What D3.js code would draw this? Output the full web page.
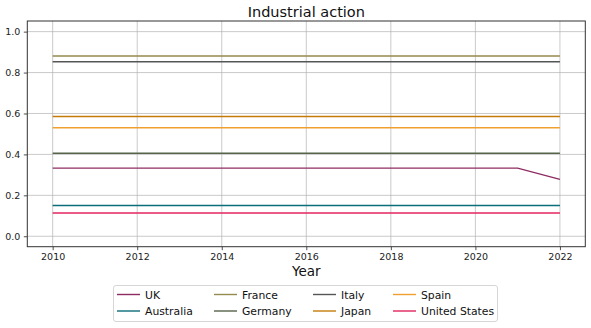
<!DOCTYPE html>
<html>
<head>
	<meta charset="utf-8">
	<title>Industrial action</title>
	<style>
		body { margin: 0; background: #fff; }
		svg { font-family: "DejaVu Sans", sans-serif; }
	</style>
</head>
<body>
	<svg width="591" height="328"></svg>
	<script src="https://cdn.jsdelivr.net/npm/d3@7"></script>
	<script>
		// data
		var years = [2010, 2011, 2012, 2013, 2014, 2015, 2016, 2017, 2018, 2019, 2020, 2021, 2022];
		var countries = ['UK', 'Australia', 'France', 'Germany', 'Italy', 'Japan', 'Spain', 'United States'];
		var colors = ['#8e2c62', '#0b6e7a', '#958a4d', '#56644a', '#555555', '#c57a0a', '#f0a030', '#e3245f'];
		var ukValues = [0.333, 0.333, 0.333, 0.333, 0.333, 0.333, 0.333, 0.333, 0.333, 0.333, 0.333, 0.333, 0.278];
		var australiaValues = [0.15, 0.15, 0.15, 0.15, 0.15, 0.15, 0.15, 0.15, 0.15, 0.15, 0.15, 0.15, 0.15];
		var franceValues = [0.881, 0.881, 0.881, 0.881, 0.881, 0.881, 0.881, 0.881, 0.881, 0.881, 0.881, 0.881, 0.881];
		var germanyValues = [0.406, 0.406, 0.406, 0.406, 0.406, 0.406, 0.406, 0.406, 0.406, 0.406, 0.406, 0.406, 0.406];
		var italyValues = [0.853, 0.853, 0.853, 0.853, 0.853, 0.853, 0.853, 0.853, 0.853, 0.853, 0.853, 0.853, 0.853];
		var japanValues = [0.585, 0.585, 0.585, 0.585, 0.585, 0.585, 0.585, 0.585, 0.585, 0.585, 0.585, 0.585, 0.585];
		var spainValues = [0.53, 0.53, 0.53, 0.53, 0.53, 0.53, 0.53, 0.53, 0.53, 0.53, 0.53, 0.53, 0.53];
		var usValues = [0.114, 0.114, 0.114, 0.114, 0.114, 0.114, 0.114, 0.114, 0.114, 0.114, 0.114, 0.114, 0.114];
		var xTicks = [2010, 2012, 2014, 2016, 2018, 2020, 2022];
		var yTicks = [0.0, 0.2, 0.4, 0.6, 0.8, 1.0];

		var series = [ukValues, australiaValues, franceValues, germanyValues, italyValues, japanValues, spainValues, usValues];

		var svg = d3.select('svg');
		var plotLeft = 27.3, plotRight = 585.3, plotTop = 21, plotBottom = 246.7;

		var x = d3.scaleLinear().domain([2009.4, 2022.6]).range([plotLeft, plotRight]);
		var y = d3.scaleLinear().domain([-0.051, 1.052]).range([plotBottom, plotTop]);

		// grid
		var grid = svg.append('g');
		grid.selectAll('.gx').data(xTicks).enter().append('line')
			.attr('x1', d => x(d)).attr('x2', d => x(d))
			.attr('y1', plotTop).attr('y2', plotBottom)
			.attr('stroke', '#b0b0b0').attr('stroke-opacity', 0.75).attr('stroke-width', 0.9);
		grid.selectAll('.gy').data(yTicks).enter().append('line')
			.attr('x1', plotLeft).attr('x2', plotRight)
			.attr('y1', d => y(d)).attr('y2', d => y(d))
			.attr('stroke', '#b0b0b0').attr('stroke-opacity', 0.75).attr('stroke-width', 0.9);

		// lines
		var line = d3.line().x((d, i) => x(years[i])).y(d => y(d));
		svg.append('g').selectAll('path').data(series).enter().append('path')
			.attr('d', d => line(d))
			.attr('fill', 'none')
			.attr('stroke', (d, i) => colors[i])
			.attr('stroke-width', 1.4);

		// axes
		var xAxis = d3.axisBottom(x).tickValues(xTicks).tickFormat(d3.format('d')).tickSize(3.5).tickPadding(3.5);
		var yAxis = d3.axisLeft(y).tickValues(yTicks).tickFormat(d3.format('.1f')).tickSize(3.5).tickPadding(3.5);
		var gx = svg.append('g').attr('transform', 'translate(0,' + plotBottom + ')').call(xAxis);
		var gy = svg.append('g').attr('transform', 'translate(' + plotLeft + ',0)').call(yAxis);
		[gx, gy].forEach(g => {
			g.select('.domain').remove();
			g.selectAll('text').attr('font-size', 9.5).attr('fill', '#222').attr('font-family', '"DejaVu Sans", sans-serif');
			g.selectAll('line').attr('stroke', '#222').attr('stroke-width', 0.8);
		});

		// frame
		svg.append('rect')
			.attr('x', plotLeft).attr('y', plotTop)
			.attr('width', plotRight - plotLeft).attr('height', plotBottom - plotTop)
			.attr('fill', 'none').attr('stroke', '#333').attr('stroke-width', 1);

		// title and axis label
		svg.append('text').attr('x', (plotLeft + plotRight) / 2).attr('y', 17)
			.attr('text-anchor', 'middle').attr('font-size', 14.5).attr('fill', '#111')
			.text('Industrial action');
		svg.append('text').attr('x', (plotLeft + plotRight) / 2).attr('y', 276)
			.attr('text-anchor', 'middle').attr('font-size', 13.5).attr('fill', '#111')
			.text('Year');

		// legend, two rows, filled column by column
		var legend = svg.append('g');
		legend.append('rect')
			.attr('x', 113.5).attr('y', 285.5).attr('width', 384).attr('height', 36)
			.attr('rx', 2.5).attr('fill', '#fff').attr('stroke', '#d6d6d6');
		var colX = [117, 214, 313, 393];
		var rowY = [294.5, 311];
		var items = legend.selectAll('g').data(countries).enter().append('g')
			.attr('transform', (d, i) => 'translate(' + colX[Math.floor(i / 2)] + ',' + rowY[i % 2] + ')');
		items.append('line').attr('x1', 0).attr('x2', 23).attr('y1', 0).attr('y2', 0)
			.attr('stroke', (d, i) => colors[i]).attr('stroke-width', 1.4);
		items.append('text').attr('x', 28).attr('y', 4)
			.attr('font-size', 10.8).attr('fill', '#111')
			.text(d => d);
	</script>
</body>
</html>
